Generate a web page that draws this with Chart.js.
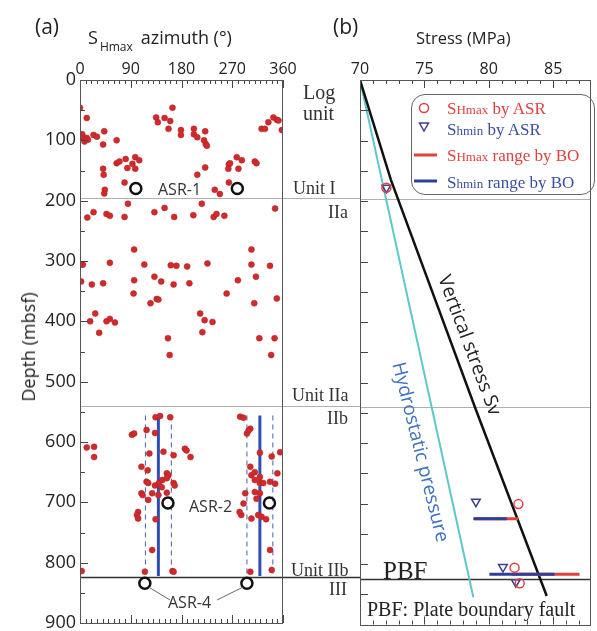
<!DOCTYPE html>
<html>
<head>
<meta charset="utf-8">
<script src="https://cdn.jsdelivr.net/npm/chart.js@4.4.0/dist/chart.umd.min.js"></script>
<style>
  body { margin:0; background:#fff; width:597px; height:631px; overflow:hidden; position:relative; font-family:"Open Sans",sans-serif; }
  canvas { position:absolute; top:0; }
  #cA { left:0; }
  #cB { left:320px; }
  .t { position:absolute; white-space:nowrap; color:#222; line-height:1; transform:translateY(-50%); }
  .s { font-family:"Liberation Serif","Times New Roman",serif; color:#333; }
  .lg { position:absolute; left:411px; top:94px; width:182px; height:99px; border:1px solid #666; border-radius:14px; }
  .sub { font-size:13px; }
</style>
</head>
<body>
<canvas id="cA" width="360" height="631"></canvas>
<canvas id="cB" width="277" height="631"></canvas>

<div class="t" style="left:35px;top:26px;font-size:21px">(a)</div>
<div class="t" style="left:88px;top:37px;font-size:18px">S<span style="font-size:12px;position:relative;top:7px;margin:0 8px 0 2px">Hmax</span>azimuth (°)</div>
<div class="t" style="left:28px;top:347px;font-size:18px;transform:translate(-50%,-50%) rotate(-90deg)">Depth (mbsf)</div>
<div class="t" style="left:333px;top:26px;font-size:21px">(b)</div>
<div class="t" style="left:416px;top:38px;font-size:16.5px">Stress (MPa)</div>

<div class="t s" style="left:303px;top:92px;font-size:20px">Log</div>
<div class="t s" style="left:303px;top:113px;font-size:20px">unit</div>
<div class="t s" style="left:293px;top:188px;font-size:18px">Unit I</div>
<div class="t s" style="right:249px;top:212px;font-size:18px">IIa</div>
<div class="t s" style="left:292px;top:395px;font-size:18px">Unit IIa</div>
<div class="t s" style="right:249px;top:418px;font-size:18px">IIb</div>
<div class="t s" style="left:291px;top:570px;font-size:18px">Unit IIb</div>
<div class="t s" style="right:250px;top:589px;font-size:18px">III</div>

<div class="t" style="left:158px;top:189px;font-size:16px;color:#333">ASR-1</div>
<div class="t" style="left:189px;top:506px;font-size:16px;color:#333">ASR-2</div>
<div class="t" style="left:168px;top:602px;font-size:16px;color:#333">ASR-4</div>

<div class="t s" style="left:383px;top:570px;font-size:25px;color:#222">PBF</div>
<div class="t s" style="left:367px;top:609px;font-size:20px;color:#222">PBF: Plate boundary fault</div>
<div class="t" style="left:470px;top:345px;font-size:19px;transform:translate(-50%,-50%) rotate(69.4deg)">Vertical stress Sv</div>
<div class="t" style="left:421px;top:452px;font-size:19px;color:#4070c0;transform:translate(-50%,-50%) rotate(76deg)">Hydrostatic pressure</div>

<div class="lg"></div>
<svg style="position:absolute;left:405px;top:94px" width="40" height="100">
  <circle cx="19" cy="14" r="4.5" fill="none" stroke="#e0413f" stroke-width="1.5"/>
  <polygon points="14.5,29 23.5,29 19,37" fill="none" stroke="#3c3f8c" stroke-width="1.5"/>
  <line x1="9" y1="61" x2="32" y2="61" stroke="#e0413f" stroke-width="3"/>
  <line x1="9" y1="87" x2="32" y2="87" stroke="#2f3f9a" stroke-width="3"/>
</svg>
<div class="t s" style="left:447px;top:108px;font-size:17px;color:#e0413f">S<span class="sub">Hmax</span> by ASR</div>
<div class="t s" style="left:447px;top:129px;font-size:17px;color:#3b4fa0">S<span class="sub">hmin</span> by ASR</div>
<div class="t s" style="left:447px;top:155px;font-size:17px;color:#e0413f">S<span class="sub">Hmax</span> range by BO</div>
<div class="t s" style="left:447px;top:182px;font-size:17px;color:#3b4fa0">S<span class="sub">hmin</span> range by BO</div>

<script>
// ---- panel (a): SHmax azimuth vs depth ----
const AZ = [0,12,4,6,12,8,14,24,30,43,41,65,41,42,44,43,79,65,70,81,84,93,98,105,98,135,138,150,160,164,157,179,179,202,202,208,222,220,223,225,222,208,239,248,264,266,263,278,287,281,264,310,313,322,328,334,343,349,352,358,
  13,24,47,53,79,85,132,150,167,201,216,237,242,256,346,96,3,5,53,114,161,171,190,226,304,304,337,2,21,41,96,132,144,166,194,280,312,95,125,136,139,260,309,349,27,18,47,53,62,34,213,221,235,217,156,159,318,345,339,
  134,142,160,92,96,118,133,12,25,25,123,148,166,109,120,154,157,118,121,133,140,146,154,166,168,145,109,111,128,139,154,121,103,101,103,134,128,3,115,164,166,
  284,290,302,296,299,186,189,196,319,340,355,302,304,310,319,310,319,325,337,346,350,310,319,293,313,286,283,304,316,322,330,290,337,302,340];
const AZ_DEPTH = [46,63,90,96,96,102,99,91,94,85,107,100,147,157,182,188,170,138,135,131,146,139,128,133,147,62,70,63,68,46,81,83,91,81,90,95,85,100,106,109,145,157,182,189,140,138,147,128,133,147,170,135,138,81,81,70,62,66,67,83,
  228,219,222,225,227,205,219,212,227,224,205,227,222,225,213,281,306,306,303,306,307,308,309,304,281,306,308,334,339,337,332,326,334,339,337,332,326,354,370,363,364,354,370,362,387,400,400,396,402,419,387,398,401,418,428,456,428,428,456,
  559,557,559,588,586,580,585,609,608,625,619,616,622,641,647,652,655,666,668,672,668,663,660,668,672,675,685,688,685,688,684,696,716,721,727,728,779,814,815,814,815,
  558,560,578,586,581,611,614,625,618,624,617,641,655,650,658,663,668,668,666,669,652,683,685,685,694,721,716,727,721,724,728,702,779,815,812];
const ASR_AZ = [99,279,156,336,115,296];
const ASR_DEPTH = [180,180,701,701,834,834];
const BO_AZ = [139,319];
const BO_AZ_MIN = [116,296];
const BO_AZ_MAX = [162,342];
const BO_TOP = 556, BO_BOTTOM = 822;

const AZ_TICKS = [0,90,180,270,360];
const DEPTH_TICKS = [0,100,200,300,400,500,600,700,800,900];
const UNIT_BOUNDS = [196,540,824];

// ---- panel (b): stress vs depth ----
const STRESS_TICKS = [70,75,80,85];
const SV_P = [70,72.4,79.0,84.5];
const SV_D = [0,165,545,853];
const HYDRO_P = [70,78.8];
const HYDRO_D = [0,855];
const SHMAX_ASR = [72.05,82.3,82.0,82.4];
const SHMAX_ASR_D = [178,701,806,832];
const SHMIN_ASR = [72.05,79.0,81.1,82.1];
const SHMIN_ASR_D = [178,697,805,830];
const BO_D = [725,817];
const SHMAX_BO_MIN = [78.9,81.8];
const SHMAX_BO_MAX = [82.3,87.05];
const SHMIN_BO_MIN = [78.8,80.05];
const SHMIN_BO_MAX = [81.4,85.1];

Chart.defaults.font.family = "'Open Sans', sans-serif";
Chart.defaults.color = '#222';

const pts = (xs, ys) => xs.map((v, i) => ({x: v, y: ys[i]}));
const seg = (x0, y0, x1, y1) => [{x: x0, y: y0}, {x: x1, y: y1}];
// fixed axis sizes, no auto padding for overhanging labels
const fitTop = s => { s.height = 80; s.paddingLeft = 0; s.paddingRight = 0; };
const fitLeft = s => { s.width = 80; s.paddingTop = 0; s.paddingBottom = 0; };

// box, inward ticks, unit boundaries
const frame = {
  id: 'frame',
  beforeDatasetsDraw(chart, args, o) {
    const {ctx, chartArea: a, scales: {y}} = chart;
    ctx.save();
    UNIT_BOUNDS.forEach((d, i) => {
      const py = Math.round(y.getPixelForValue(d)) + 0.5;
      ctx.strokeStyle = i < 2 ? '#b0b0b0' : '#333';
      ctx.lineWidth = i < 2 ? 1 : 1.5;
      ctx.beginPath();
      ctx.moveTo(a.left, py);
      ctx.lineTo(o.extend ? chart.width : a.right, py);
      ctx.stroke();
    });
    ctx.restore();
  },
  afterDatasetsDraw(chart, args, o) {
    const {ctx, chartArea: a, scales: {x, y}} = chart;
    ctx.save();
    ctx.strokeStyle = '#444';
    ctx.lineWidth = 1;
    ctx.beginPath();
    for (let v = x.min; v <= x.max + 1e-6; v += o.xMinor) {
      const px = Math.round(x.getPixelForValue(v)) + 0.5;
      const len = Math.abs(v % o.xMajor) < 1e-6 ? 8 : 4;
      ctx.moveTo(px, a.top); ctx.lineTo(px, a.top + len);
      ctx.moveTo(px, a.bottom); ctx.lineTo(px, a.bottom - len);
    }
    for (let d = 0; d <= 900; d += 50) {
      const py = Math.round(y.getPixelForValue(d)) + 0.5;
      const len = o.yFlat ? 8 : (d % 100 === 0 ? 8 : 5);
      ctx.moveTo(a.left, py); ctx.lineTo(a.left + len, py);
    }
    ctx.stroke();
    ctx.strokeStyle = '#555';
    ctx.strokeRect(Math.round(a.left) + 0.5, Math.round(a.top) + 0.5, Math.round(a.right - a.left) - 1, Math.round(a.bottom - a.top));
    // connectors for ASR-4 label
    if (o.connect) {
      ctx.strokeStyle = '#666';
      ctx.beginPath();
      ctx.moveTo(x.getPixelForValue(ASR_AZ[4]) + 4, y.getPixelForValue(ASR_DEPTH[4]) + 4);
      ctx.lineTo(170, 600);
      ctx.moveTo(x.getPixelForValue(ASR_AZ[5]) - 4, y.getPixelForValue(ASR_DEPTH[5]) + 4);
      ctx.lineTo(217, 600);
      ctx.stroke();
    }
    ctx.restore();
  }
};

const blueSolid = BO_AZ.map(a => ({
  data: seg(a, BO_TOP, a, BO_BOTTOM), showLine: true, pointRadius: 0,
  borderColor: '#2f4fb5', borderWidth: 3, order: 2
}));
const blueDash = BO_AZ_MIN.concat(BO_AZ_MAX).map(a => ({
  data: seg(a, BO_TOP, a, BO_BOTTOM), showLine: true, pointRadius: 0,
  borderColor: '#4060b0', borderWidth: 1, borderDash: [5, 4], order: 3
}));

new Chart(document.getElementById('cA'), {
  type: 'scatter',
  data: {
    datasets: [
      { data: pts(AZ, AZ_DEPTH), pointRadius: 3, backgroundColor: '#d12a2c', borderColor: '#b02020', borderWidth: 0.5, order: 1 },
      ...blueSolid,
      ...blueDash,
      { data: pts(ASR_AZ, ASR_DEPTH), pointRadius: 5.5, backgroundColor: 'rgba(0,0,0,0)', borderColor: '#111', borderWidth: 2.5, order: 0 }
    ]
  },
  options: {
    responsive: false, animation: false,
    layout: { padding: { left: 0, top: 0, right: 77, bottom: 6 } },
    plugins: { legend: { display: false }, tooltip: { enabled: false },
      frame: { xMinor: 10, xMajor: 90, extend: true, connect: true } },
    scales: {
      x: { type: 'linear', position: 'top', min: 0, max: 360,
        afterBuildTicks: s => { s.ticks = AZ_TICKS.map(v => ({value: v})); },
        afterFit: fitTop,
        grid: { display: false, drawTicks: false }, border: { display: false },
        ticks: { padding: 1, font: { size: 16 }, color: '#222', maxRotation: 0 } },
      y: { type: 'linear', reverse: true, min: 0, max: 900,
        afterBuildTicks: s => { s.ticks = DEPTH_TICKS.map(v => ({value: v})); },
        afterFit: fitLeft,
        grid: { display: false, drawTicks: false }, border: { display: false },
        ticks: { padding: 4, font: { size: 18 }, color: '#222' } }
    }
  },
  plugins: [frame]
});

const ranges = [];
BO_D.forEach((d, i) => {
  ranges.push({ data: seg(SHMAX_BO_MIN[i], d, SHMAX_BO_MAX[i], d), showLine: true, pointRadius: 0, borderColor: '#e0413f', borderWidth: 3, order: 4 });
  ranges.push({ data: seg(SHMIN_BO_MIN[i], d, SHMIN_BO_MAX[i], d), showLine: true, pointRadius: 0, borderColor: '#2f3f9a', borderWidth: 3, order: 3 });
});

new Chart(document.getElementById('cB'), {
  type: 'scatter',
  data: {
    datasets: [
      { data: pts(HYDRO_P, HYDRO_D), showLine: true, pointRadius: 0, borderColor: '#5ec8ca', borderWidth: 2, order: 6 },
      { data: pts(SV_P, SV_D), showLine: true, pointRadius: 0, borderColor: '#111', borderWidth: 2.5, order: 5 },
      ...ranges,
      { data: pts(SHMIN_ASR, SHMIN_ASR_D), pointStyle: 'triangle', rotation: 180, pointRadius: 5, backgroundColor: 'rgba(0,0,0,0)', borderColor: '#3c3f8c', borderWidth: 1.5, order: 1 },
      { data: pts(SHMAX_ASR, SHMAX_ASR_D), pointStyle: 'circle', pointRadius: 4.5, backgroundColor: 'rgba(0,0,0,0)', borderColor: '#e0413f', borderWidth: 1.5, order: 0 }
    ]
  },
  options: {
    responsive: false, animation: false,
    layout: { padding: { left: 40, top: 0, right: 1, bottom: 6 } },
    plugins: { legend: { display: false }, tooltip: { enabled: false },
      frame: { xMinor: 1, xMajor: 5, yFlat: true } },
    scales: {
      x: { type: 'linear', position: 'top', min: 70, max: 87.9,
        afterBuildTicks: s => { s.ticks = STRESS_TICKS.map(v => ({value: v})); },
        afterFit: fitTop,
        grid: { display: false, drawTicks: false }, border: { display: false },
        ticks: { padding: 1, font: { size: 16 }, color: '#222', maxRotation: 0 } },
      y: { type: 'linear', reverse: true, min: 0, max: 900, display: false }
    }
  },
  plugins: [frame]
});
</script>
</body>
</html>
